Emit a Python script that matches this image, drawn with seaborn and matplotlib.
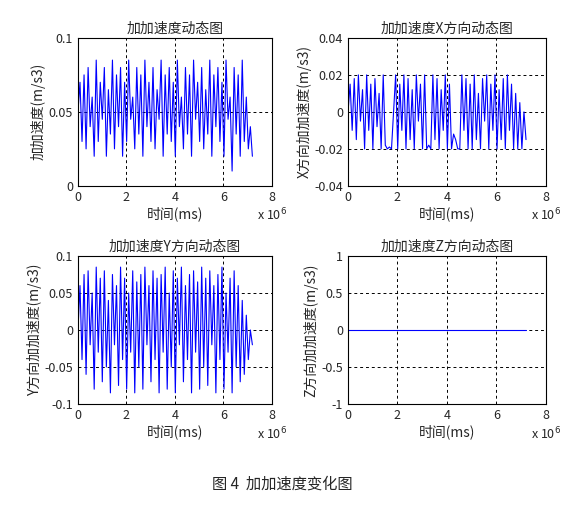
import numpy as np
import matplotlib
matplotlib.use("Agg")
import matplotlib.pyplot as plt
import seaborn as sns

sns.set_style("white")
plt.rcParams['font.family'] = ['Noto Sans CJK SC', 'DejaVu Sans']
plt.rcParams['axes.unicode_minus'] = False

jerk = [0.05,0.07,0.03,0.075,0.025,0.08,0.04,0.06,0.02,0.085,0.03,0.07,0.045,0.08,0.02,0.065,0.035,0.085,0.025,0.075,
        0.04,0.08,0.02,0.07,0.03,0.085,0.045,0.06,0.025,0.08,0.035,0.075,0.02,0.085,0.04,0.07,0.03,0.08,0.025,0.065,
        0.045,0.085,0.02,0.075,0.035,0.08,0.03,0.07,0.02,0.085,0.04,0.06,0.025,0.08,0.035,0.075,0.02,0.085,0.045,0.07,
        0.03,0.08,0.025,0.065,0.035,0.085,0.02,0.075,0.04,0.08,0.03,0.07,0.02,0.085,0.045,0.06,0.01,0.08,0.035,0.075,
        0.02,0.085,0.03,0.06,0.025,0.04,0.02]
jerk_x = [0.0,0.015,-0.01,0.018,-0.015,0.02,-0.005,0.012,-0.02,0.02,-0.01,0.015,-0.02,0.018,-0.008,0.01,-0.02,0.02,
          -0.018,-0.02,-0.019,-0.02,0.0,0.02,-0.02,0.015,-0.01,0.02,-0.02,0.018,-0.015,0.012,-0.02,0.02,-0.005,0.015,
          -0.02,0.02,-0.02,-0.018,-0.02,0.02,-0.015,0.018,-0.02,0.012,-0.01,0.02,-0.02,0.015,-0.02,-0.012,-0.015,-0.02,
          -0.02,0.02,-0.01,0.018,-0.02,0.015,-0.02,0.02,-0.015,0.01,-0.02,0.018,-0.005,0.02,-0.02,0.015,-0.01,0.02,
          -0.02,0.012,-0.015,0.018,-0.02,0.02,-0.01,0.015,-0.02,0.01,-0.02,0.005,-0.02,0.0,-0.015]
jerk_y = [0.0,0.06,-0.04,0.075,-0.06,0.08,-0.02,0.05,-0.08,0.085,-0.03,0.07,-0.07,0.08,-0.05,0.04,-0.085,0.075,
          -0.02,0.06,-0.075,0.085,-0.04,0.07,-0.08,0.05,-0.03,0.08,-0.085,0.065,-0.05,0.075,-0.08,0.085,-0.02,0.06,
          -0.07,0.08,-0.04,0.07,-0.085,0.075,-0.03,0.085,-0.08,0.05,-0.05,0.08,-0.085,0.07,-0.02,0.085,-0.07,0.06,
          -0.04,0.075,-0.085,0.08,-0.03,0.065,-0.08,0.085,-0.05,0.07,-0.075,0.08,-0.02,0.06,-0.085,0.075,-0.04,0.085,
          -0.08,0.05,-0.03,0.07,-0.085,0.08,-0.05,0.06,-0.07,0.04,-0.06,0.02,-0.04,0.0,-0.02]
jerk_z = [0.0] * len(jerk)
t = np.linspace(0, 7.2e6, len(jerk))

fig = plt.figure(figsize=(5.65, 5.12), dpi=100)
pos = [[0.138, 0.637, 0.343, 0.289], [0.616, 0.637, 0.35, 0.289],
       [0.138, 0.211, 0.343, 0.289], [0.616, 0.211, 0.35, 0.289]]
series = [jerk, jerk_x, jerk_y, jerk_z]
titles = ['加加速度动态图', '加加速度X方向动态图', '加加速度Y方向动态图', '加加速度Z方向动态图']
ylabels = ['加加速度(m/s3)', 'X方向加加速度(m/s3)', 'Y方向加加速度(m/s3)', 'Z方向加加速度(m/s3)']
ylims = [(0, 0.1), (-0.04, 0.04), (-0.1, 0.1), (-1, 1)]
yticks = [[0, 0.05, 0.1], [-0.04, -0.02, 0, 0.02, 0.04],
          [-0.1, -0.05, 0, 0.05, 0.1], [-1, -0.5, 0, 0.5, 1]]
yticklabels = [['0', '0.05', '0.1'], ['-0.04', '-0.02', '0', '0.02', '0.04'],
               ['-0.1', '-0.05', '0', '0.05', '0.1'], ['-1', '-0.5', '0', '0.5', '1']]

for p, s, ti, yl, lim, yt, ytl in zip(pos, series, titles, ylabels, ylims, yticks, yticklabels):
    ax = fig.add_axes(p)
    sns.lineplot(x=t, y=s, ax=ax, color='blue', linewidth=0.8)
    ax.set_xlim(0, 8e6)
    ax.set_ylim(*lim)
    ax.set_xticks([0, 2e6, 4e6, 6e6, 8e6])
    ax.set_xticklabels(['0', '2', '4', '6', '8'])
    ax.set_yticks(yt)
    ax.set_yticklabels(ytl)
    ax.grid(True, linestyle=(0, (3, 3)), color='black', linewidth=0.7)
    ax.tick_params(direction='in', labelsize=9, length=3)
    for sp in ax.spines.values():
        sp.set_color('black'); sp.set_linewidth(0.8)
    ax.set_title(ti, fontsize=10, pad=4)
    ax.set_xlabel('时间(ms)', fontsize=10, labelpad=2)
    ax.set_ylabel(yl, fontsize=10, labelpad=2)
    ax.text(1.0, -0.2, r'x 10$^6$', transform=ax.transAxes, fontsize=9, ha='center', va='center')

fig.text(0.5, 0.055, '图 4  加加速度变化图', ha='center', va='center', fontsize=11)
fig.savefig('out.png', dpi=100, facecolor='white')
